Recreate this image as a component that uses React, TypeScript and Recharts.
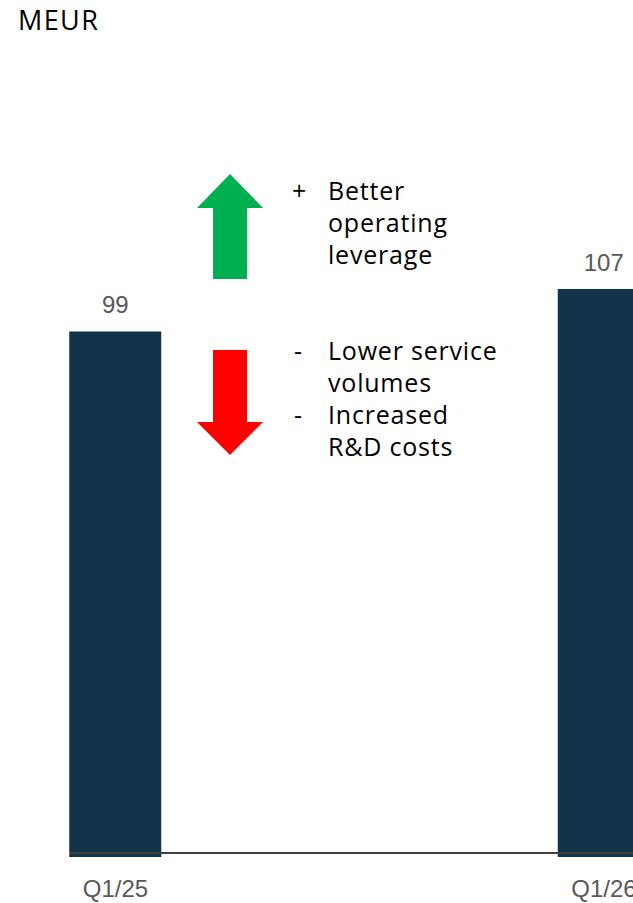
import { BarChart, Bar, XAxis, YAxis, LabelList } from 'recharts';

const quarters = ['Q1/25', 'Q1/26'];
const values = [99, 107];
const unit = 'MEUR';
const positives = [['Better', 'operating', 'leverage']];
const negatives = [['Lower service', 'volumes'], ['Increased', 'R&D costs']];

const data = quarters.map((q, i) => ({ quarter: q, value: values[i] }));

const BAR = '#13334A';
const GREY = '#595959';
const ARIAL = '"Liberation Sans", Arial, sans-serif';
const SANS = '"Open Sans", "Noto Sans", sans-serif';

function Bullets({ sign, items, top }: { sign: string; items: string[][]; top: number }) {
  return (
    <div style={{ position: 'absolute', left: 0, top, fontFamily: SANS, fontSize: 25, lineHeight: '32px', letterSpacing: 0.8, color: '#000' }}>
      {items.map((lines, i) => (
        <div key={i} style={{ position: 'relative' }}>
          <span style={{ position: 'absolute', left: sign === '+' ? 292 : 294 }}>{sign}</span>
          <div style={{ marginLeft: 328 }}>
            {lines.map((l, j) => (
              <div key={j} style={{ whiteSpace: 'nowrap' }}>{l}</div>
            ))}
          </div>
        </div>
      ))}
    </div>
  );
}

export default function App() {
  return (
    <div style={{ position: 'absolute', left: 0, top: 0, width: 633, height: 903, overflow: 'hidden', background: '#fff' }}>
      <div style={{ position: 'absolute', left: 18, top: 1, fontFamily: SANS, fontSize: 27, lineHeight: 'normal', letterSpacing: 1.4, color: '#000' }}>
        {unit}
      </div>

      <svg style={{ position: 'absolute', left: 0, top: 0 }} width={633} height={903}>
        <polygon points="197,208 230,174 263,208 247,208 247,279 213,279 213,208" fill="#00B050" />
        <polygon points="213,350 247,350 247,422 263,422 230,455 197,422 213,422" fill="#FF0000" />
      </svg>

      <Bullets sign="+" items={positives} top={174} />
      <Bullets sign="-" items={negatives} top={334} />

      <div style={{ position: 'absolute', left: 0, top: 0 }}>
        <BarChart width={700} height={903} data={data} margin={{ top: 220, right: 0, bottom: 0, left: 70 }} barSize={92}>
          <YAxis hide domain={[0, 120]} />
          <Bar dataKey="value" fill={BAR} isAnimationActive={false}>
            <LabelList dataKey="value" position="top" offset={18} fill={GREY} fontSize={24} fontFamily={ARIAL} />
          </Bar>
          <XAxis
            dataKey="quarter"
            height={46}
            padding={{ left: -198.75, right: -148.25 }}
            axisLine={{ stroke: '#404040', strokeWidth: 2, transform: 'translate(0,-4)' }}
            tickLine={false}
            tickMargin={17}
            tick={{ fill: GREY, fontSize: 24, fontFamily: ARIAL }}
          />
        </BarChart>
      </div>
    </div>
  );
}
